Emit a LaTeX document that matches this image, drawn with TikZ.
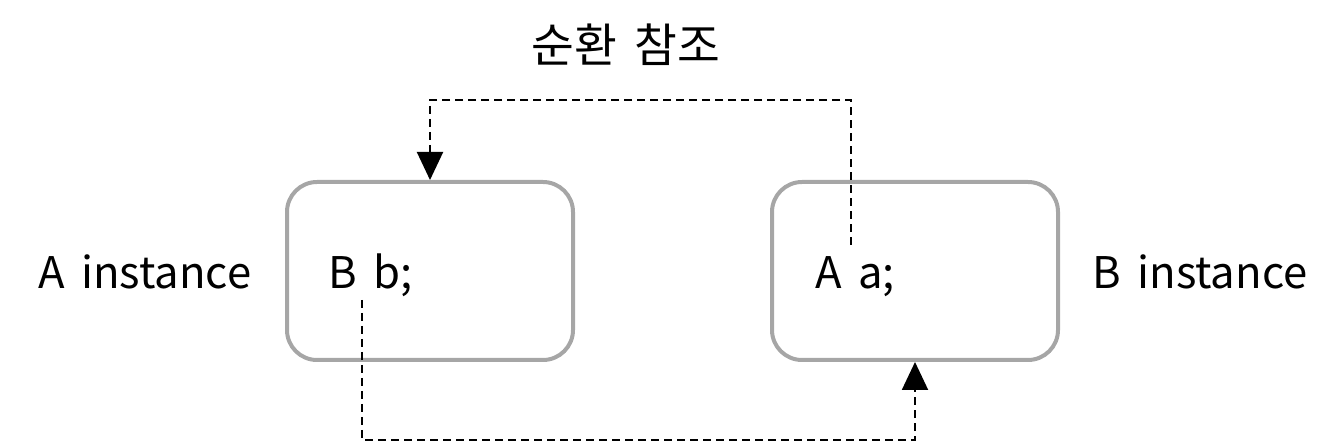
\documentclass[tikz,border=0pt]{standalone}
\usepackage{fontspec}
\setmainfont[WordSpace=1.7]{Noto Sans CJK KR}
\usetikzlibrary{positioning, arrows.meta}
\definecolor{boxgray}{RGB}{166,166,166}

\begin{document}
\begin{tikzpicture}[x=1pt,y=1pt,
	inst/.style={draw=boxgray, line width=4pt, rounded corners=30pt, minimum width=286pt, minimum height=178pt},
	lbl/.style={font=\fontsize{43.6}{52}\selectfont, inner sep=0pt, anchor=base west},
	ref/.style={dash pattern=on 8pt off 5pt, line width=2pt, -{Triangle[width=26pt,length=28pt]}}]
\useasboundingbox (0,0) rectangle (1340,444);
\node[inst](boxA) at (430,173) {};
\node[inst](boxB) at (915,173) {};

\node[lbl](nameA) at (38,155) {A instance};
\node[lbl](nameB) at (1092,155) {B instance};
\node[lbl](fieldA) at (328,155) {B b;};
\node[lbl](fieldB) at (815,155) {A a;};
\node[lbl, anchor=base, font=\fontsize{46.5}{54}\selectfont](title) at (626,381) {순환 참조};

\coordinate (tailB) at (851,199);
\coordinate (bendB) at (851,344);
\coordinate (tailA) at (362,144);
\coordinate (bendA) at (362,4);

\draw[ref] (tailB) -- (bendB) -| (boxA.north);
\draw[ref] (tailA) -- (bendA) -| (boxB.south);

\end{tikzpicture}
\end{document}
